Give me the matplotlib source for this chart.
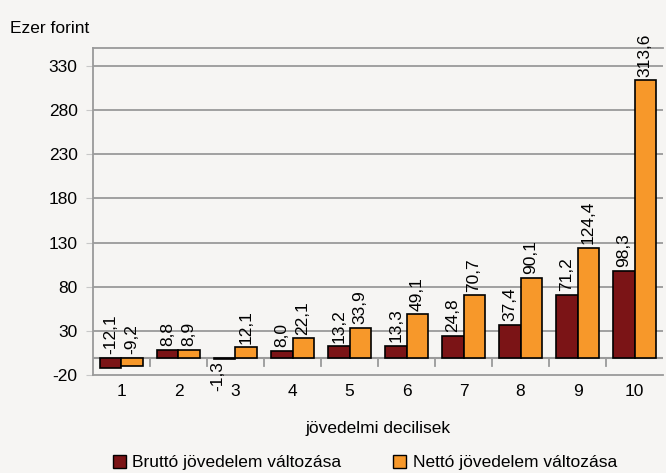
import matplotlib
matplotlib.use("Agg")
from matplotlib import pyplot as plt
from matplotlib.patches import Patch
import numpy as np

plt.rcParams['font.family'] = ['Liberation Sans', 'DejaVu Sans']

deciles = ["1", "2", "3", "4", "5", "6", "7", "8", "9", "10"]
brutto = [-12.1, 8.8, -1.3, 8.0, 13.2, 13.3, 24.8, 37.4, 71.2, 98.3]
netto = [-9.2, 8.9, 12.1, 22.1, 33.9, 49.1, 70.7, 90.1, 124.4, 313.6]
yticks = [-20, 30, 80, 130, 180, 230, 280, 330]

bg = "#f6f5f3"
red = "#7b1416"
orange = "#f7982a"
grid = "#9a9a9a"

fig = plt.figure(figsize=(6.66, 4.73), dpi=100, facecolor=bg)
ax = fig.add_axes([0.1396, 0.2062, 0.856, 0.6923])
ax.set_facecolor(bg)

x = np.arange(1, len(deciles) + 1)
w = 0.37
ax.bar(x - w / 2, brutto, w, color=red, edgecolor="black", linewidth=1.2, zorder=3)
ax.bar(x + w / 2, netto, w, color=orange, edgecolor="black", linewidth=1.2, zorder=3)

def fmt(v):
    return f"{v:.1f}".replace(".", ",")

# value labels, rotated like the original
for i in range(len(x)):
    for xs, v in ((x[i] - w / 2, brutto[i]), (x[i] + w / 2, netto[i])):
        if v < 0 and abs(v) < 5:
            ax.text(xs - 0.12, v - 3, fmt(v), rotation=90, ha="center", va="top", fontsize=12.5)
        else:
            ax.text(xs, max(v, 0) + 4, fmt(v), rotation=90, ha="center", va="bottom", fontsize=12.5)

ax.set_xlim(0.5, 10.5)
ax.set_ylim(-20, 350)
ax.set_yticks(yticks)
ax.set_yticklabels([str(t) for t in yticks], fontsize=12.5)
for t in yticks[1:]:
    ax.axhline(t, color=grid, linewidth=1.3, zorder=1)
ax.axhline(0, color=grid, linewidth=1.5, zorder=2)
for b in np.arange(1.5, 10.5, 1):
    ax.plot([b, b], [0, -9], color=grid, linewidth=1.3, zorder=2)

ax.set_xticks(x)
ax.set_xticklabels(deciles, fontsize=12.5)
ax.tick_params(axis="x", length=0, pad=6)
ax.tick_params(axis="y", length=5, color="#c8c8c8", pad=6)
for s in ax.spines.values():
    s.set_color(grid)
    s.set_linewidth(1.3)
ax.spines["right"].set_visible(False)

fig.text(0.015, 0.94, "Ezer forint", fontsize=12.5, ha="left", va="center")
fig.text(0.568, 0.095, "jövedelmi decilisek", fontsize=12.5, ha="center", va="center")

handles = [Patch(facecolor=red, edgecolor="black", label="Bruttó jövedelem változása"),
           Patch(facecolor=orange, edgecolor="black", label="Nettó jövedelem változása")]
fig.legend(handles=handles, loc="center", bbox_to_anchor=(0.548, 0.022), ncol=2,
           frameon=False, fontsize=12.5, handlelength=0.75, handleheight=0.75,
           handletextpad=0.35, columnspacing=3.0)

fig.savefig("out.png", dpi=100, facecolor=bg)
